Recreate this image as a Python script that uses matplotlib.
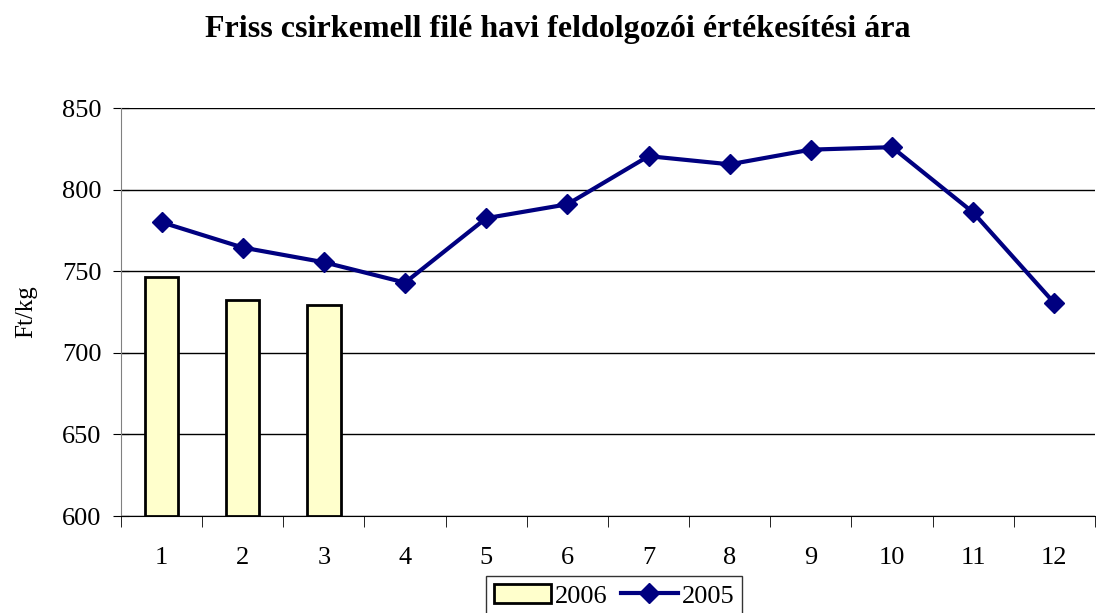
import matplotlib
matplotlib.use("Agg")
import matplotlib.pyplot as plt
import numpy as np

months = [1, 2, 3, 4, 5, 6, 7, 8, 9, 10, 11, 12]
price_2006 = [746.5, 732.5, 729]
price_2005 = [780, 764.5, 755.5, 743, 782.5, 791, 820.5, 815.5, 824.5, 826, 786, 730.5]

plt.rcParams['font.family'] = ['Liberation Serif', 'DejaVu Serif']

fig = plt.figure(figsize=(10.96, 6.13), dpi=100)
ax = fig.add_axes([0.1104, 0.1582, 0.8886, 0.6656])

x = np.arange(len(months))
bars = ax.bar(x[:len(price_2006)], np.array(price_2006) - 600, bottom=600, width=0.41,
              color='#FFFFCC', edgecolor='black', linewidth=2, label='2006', zorder=3)
line, = ax.plot(x, price_2005, color='#000080', linewidth=3, marker='D', markersize=10,
                label='2005', zorder=4)

ax.set_xlim(-0.5, len(months) - 0.5)
ax.set_ylim(600, 850)
ax.set_yticks(np.arange(600, 851, 50))
ax.yaxis.grid(True, color='black', linewidth=1)
ax.set_axisbelow(True)
ax.set_xticks(x)
ax.set_xticklabels([str(m) for m in months])
ax.set_xticks(np.arange(-0.5, len(months), 1), minor=True)
ax.tick_params(axis='x', which='major', length=0, labelsize=19, pad=22)
ax.tick_params(axis='x', which='minor', length=8, direction='out', color='black')
ax.tick_params(axis='y', length=12, direction='inout', labelsize=19, pad=8)

for s in ['top', 'right']:
    ax.spines[s].set_visible(False)
ax.spines['left'].set_color('#808080')
ax.spines['bottom'].set_color('black')

ax.set_ylabel('Ft/kg', fontsize=18, labelpad=18)
fig.text(0.509, 0.952, 'Friss csirkemell filé havi feldolgozói értékesítési ára',
         ha='center', va='center', fontsize=23, fontweight='bold')

leg = fig.legend([bars, line], ['2006', '2005'], loc='center', bbox_to_anchor=(0.5605, 0.028),
                 ncol=2, fontsize=19, frameon=True, fancybox=False, edgecolor='black',
                 handlelength=2.15, columnspacing=0.5, handletextpad=0.15, borderpad=0.3,
                 borderaxespad=0)
leg.get_frame().set_linewidth(1)

fig.savefig('out.png', dpi=100)
